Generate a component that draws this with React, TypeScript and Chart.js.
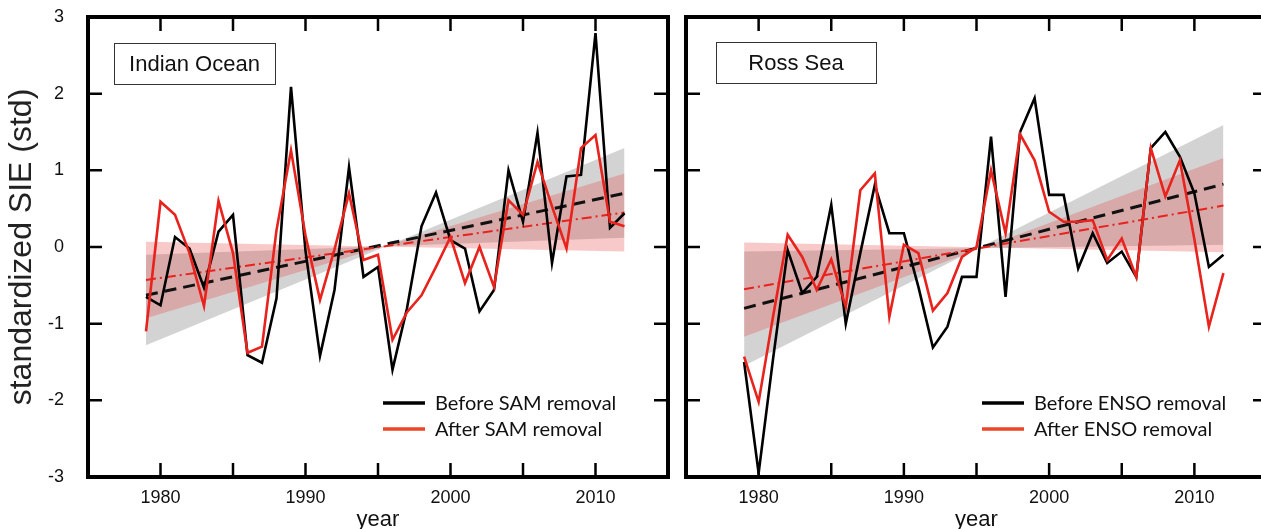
import React, { useEffect, useRef } from 'react';
import { Chart, registerables } from 'chart.js';
Chart.register(...registerables);

// ---------- data ----------
const years = [1979, 1980, 1981, 1982, 1983, 1984, 1985, 1986, 1987, 1988, 1989, 1990, 1991, 1992, 1993, 1994, 1995,
  1996, 1997, 1998, 1999, 2000, 2001, 2002, 2003, 2004, 2005, 2006, 2007, 2008, 2009, 2010, 2011, 2012];

const indianBefore = [-0.65, -0.76, 0.13, -0.02, -0.53, 0.20, 0.42, -1.41, -1.51, -0.67, 2.09, -0.05, -1.42, -0.56, 1.04, -0.39, -0.26,
  -1.60, -0.80, 0.27, 0.71, 0.09, -0.02, -0.84, -0.56, 1.00, 0.33, 1.49, -0.21, 0.92, 0.94, 2.79, 0.25, 0.44];
const indianAfter = [-1.10, 0.59, 0.42, -0.08, -0.77, 0.60, -0.08, -1.38, -1.30, 0.22, 1.26, 0.15, -0.69, -0.03, 0.70, -0.17, -0.10,
  -1.21, -0.85, -0.63, -0.26, 0.13, -0.47, 0.00, -0.52, 0.61, 0.42, 1.11, 0.53, -0.02, 1.29, 1.46, 0.33, 0.27];

const rossBefore = [-1.50, -2.95, -1.45, -0.04, -0.60, -0.39, 0.55, -1.00, -0.08, 0.81, 0.18, 0.18, -0.52, -1.31, -1.04, -0.39, -0.39,
  1.44, -0.65, 1.50, 1.94, 0.68, 0.68, -0.28, 0.18, -0.21, -0.06, -0.39, 1.29, 1.50, 1.18, 0.70, -0.26, -0.10];
const rossAfter = [-1.43, -2.02, -0.90, 0.16, -0.13, -0.56, -0.16, -0.78, 0.74, 0.96, -0.91, 0.03, -0.08, -0.83, -0.60, -0.13, 0.00,
  1.00, 0.18, 1.47, 1.13, 0.46, 0.33, 0.33, 0.35, -0.17, 0.11, -0.39, 1.29, 0.66, 1.13, 0.10, -1.04, -0.34];

// linear trend end points and their confidence range (first and last year)
const trendYears = [1979, 2012];
const indianTrendBefore = [-0.63, 0.70];
const indianTrendAfter = [-0.43, 0.45];
const indianRangeBeforeLow = [-0.10, 0.12];
const indianRangeBeforeHigh = [-1.28, 1.29];
const indianRangeAfterLow = [0.07, -0.06];
const indianRangeAfterHigh = [-0.93, 0.96];

const rossTrendBefore = [-0.80, 0.82];
const rossTrendAfter = [-0.55, 0.54];
const rossRangeBeforeLow = [-0.06, 0.03];
const rossRangeBeforeHigh = [-1.55, 1.59];
const rossRangeAfterLow = [0.06, -0.07];
const rossRangeAfterHigh = [-1.17, 1.16];

const xTickLabels = [1980, 1990, 2000, 2010];
const xMinorTicks = [1980, 1985, 1990, 1995, 2000, 2005, 2010];
const yTickLabels = [-3, -2, -1, 0, 1, 2, 3];
const yMinorTicks = [-2, -1, 0, 1, 2];

const indianLegend = ['Before SAM removal', 'After SAM removal'];
const rossLegend = ['Before ENSO removal', 'After ENSO removal'];

// ---------- styles ----------
const RED = '#e8221c';
const LEGEND_RED = '#ee4527';
const GRAY_FILL = 'rgba(110,110,110,0.30)';
const PINK_FILL = 'rgba(225,55,55,0.27)';
const SANS = '"Liberation Sans", Arial, Helvetica, sans-serif';
const LEGEND_FONT = 'Lato, "Open Sans", sans-serif';

const pts = (xs: number[], ys: number[]) => xs.map((x, i) => ({ x, y: ys[i] }));

const framePlugin = {
  id: 'frame',
  afterDatasetsDraw(chart: any, _args: any, opts: any) {
    const { ctx, chartArea: a, scales } = chart;
    const x = scales.x;
    const y = scales.y;
    ctx.save();
    ctx.strokeStyle = '#000';
    ctx.lineWidth = 2.5;
    const TL = 14;
    ctx.beginPath();
    for (const v of xMinorTicks) {
      const px = x.getPixelForValue(v);
      ctx.moveTo(px, a.bottom); ctx.lineTo(px, a.bottom - TL);
      ctx.moveTo(px, a.top); ctx.lineTo(px, a.top + TL);
    }
    for (const v of yMinorTicks) {
      const py = y.getPixelForValue(v);
      ctx.moveTo(a.left, py); ctx.lineTo(a.left + TL, py);
      ctx.moveTo(a.right, py); ctx.lineTo(a.right - TL, py);
    }
    ctx.stroke();
    ctx.lineWidth = 4;
    ctx.strokeRect(a.left, a.top, a.right - a.left, a.bottom - a.top);

    // region label box
    const b = opts.box;
    ctx.fillStyle = '#fff';
    ctx.fillRect(b.x, b.y, b.w, b.h);
    ctx.lineWidth = 1;
    ctx.strokeStyle = '#333';
    ctx.strokeRect(b.x + 0.5, b.y + 0.5, b.w, b.h);
    ctx.fillStyle = '#111';
    ctx.font = `22px ${SANS}`;
    ctx.textAlign = 'center';
    ctx.textBaseline = 'middle';
    ctx.fillText(opts.label, b.x + b.w / 2, b.y + b.h / 2 + 1);

    // legend
    const lg = opts.legend;
    ctx.font = `20px ${LEGEND_FONT}`;
    ctx.textAlign = 'left';
    lg.items.forEach((text: string, i: number) => {
      const yy = lg.y + i * lg.gap;
      ctx.strokeStyle = lg.colors[i];
      ctx.lineWidth = 3.5;
      ctx.beginPath();
      ctx.moveTo(lg.x, yy);
      ctx.lineTo(lg.x + 42, yy);
      ctx.stroke();
      ctx.fillStyle = '#111';
      ctx.fillText(text, lg.x + 52, yy + 1);
    });
    ctx.restore();
  },
};

function makeConfig(p: any): any {
  return {
    type: 'line',
    data: {
      datasets: [
        { data: pts(trendYears, p.rangeBeforeLow), borderWidth: 0, pointRadius: 0, fill: false, order: 9 },
        { data: pts(trendYears, p.rangeBeforeHigh), borderWidth: 0, pointRadius: 0, fill: '-1', backgroundColor: GRAY_FILL, order: 8 },
        { data: pts(trendYears, p.rangeAfterLow), borderWidth: 0, pointRadius: 0, fill: false, order: 7 },
        { data: pts(trendYears, p.rangeAfterHigh), borderWidth: 0, pointRadius: 0, fill: '-1', backgroundColor: PINK_FILL, order: 6 },
        { data: pts(trendYears, p.trendBefore), borderColor: '#111', borderWidth: 3, borderDash: [12, 7], pointRadius: 0, fill: false, order: 4 },
        { data: pts(trendYears, p.trendAfter), borderColor: RED, borderWidth: 2, borderDash: [10, 4, 2, 4], pointRadius: 0, fill: false, order: 3 },
        { label: p.legend[0], data: pts(years, p.before), borderColor: '#000', borderWidth: 2.6, pointRadius: 0, fill: false, tension: 0, order: 2 },
        { label: p.legend[1], data: pts(years, p.after), borderColor: RED, borderWidth: 2.6, pointRadius: 0, fill: false, tension: 0, order: 1 },
      ],
    },
    options: {
      responsive: false,
      animation: false,
      events: [],
      layout: { padding: { top: 17, right: p.padRight, left: 0, bottom: 0 } },
      plugins: {
        legend: { display: false },
        tooltip: { enabled: false },
        frame: {
          label: p.label,
          box: p.box,
          legend: { items: p.legend, x: p.legendX, y: 403, gap: 26, colors: ['#000', LEGEND_RED] },
        },
      },
      scales: {
        x: {
          type: 'linear',
          min: 1975,
          max: 2015,
          grid: { display: false },
          border: { display: false },
          afterBuildTicks: (s: any) => { s.ticks = xTickLabels.map((v) => ({ value: v })); },
          afterFit: (s: any) => { s.height = 52; s.paddingLeft = 0; s.paddingRight = 0; },
          ticks: { color: '#111', font: { family: SANS, size: 18 }, padding: 2, maxRotation: 0, autoSkip: false, callback: (v: any) => String(v) },
          title: { display: true, text: 'year', color: '#111', font: { family: SANS, size: 22, lineHeight: 1 }, padding: { top: 0, bottom: -2 } },
        },
        y: {
          type: 'linear',
          min: -3,
          max: 3,
          grid: { display: false },
          border: { display: false },
          afterBuildTicks: (s: any) => { s.ticks = yTickLabels.map((v) => ({ value: v })); },
          afterFit: (s: any) => { s.width = p.yWidth; s.paddingTop = 0; s.paddingBottom = 0; },
          ticks: { display: p.showY, color: '#111', font: { family: SANS, size: 18 }, padding: 16 },
          title: { display: p.showY, text: 'standardized SIE (std)', color: '#222', font: { family: SANS, size: 32, lineHeight: 1.2 }, padding: { top: 3, bottom: 0 } },
        },
      },
    },
    plugins: [framePlugin],
  };
}

export default function App() {
  const leftRef = useRef<HTMLCanvasElement>(null);
  const rightRef = useRef<HTMLCanvasElement>(null);

  useEffect(() => {
    const left = new Chart(leftRef.current as HTMLCanvasElement, makeConfig({
      before: indianBefore, after: indianAfter,
      trendBefore: indianTrendBefore, trendAfter: indianTrendAfter,
      rangeBeforeLow: indianRangeBeforeLow, rangeBeforeHigh: indianRangeBeforeHigh,
      rangeAfterLow: indianRangeAfterLow, rangeAfterHigh: indianRangeAfterHigh,
      legend: indianLegend, label: 'Indian Ocean',
      box: { x: 114, y: 43, w: 161, h: 41 }, legendX: 383,
      padRight: 8, yWidth: 88, showY: true,
    }));
    const right = new Chart(rightRef.current as HTMLCanvasElement, makeConfig({
      before: rossBefore, after: rossAfter,
      trendBefore: rossTrendBefore, trendAfter: rossTrendAfter,
      rangeBeforeLow: rossRangeBeforeLow, rangeBeforeHigh: rossRangeBeforeHigh,
      rangeAfterLow: rossRangeAfterLow, rangeAfterHigh: rossRangeAfterHigh,
      legend: rossLegend, label: 'Ross Sea',
      box: { x: 40, y: 42, w: 160, h: 41 }, legendX: 306,
      padRight: 13, yWidth: 10, showY: false,
    }));
    return () => { left.destroy(); right.destroy(); };
  }, []);

  return (
    <div style={{ position: 'fixed', left: 0, top: 0, width: 1261, height: 529, overflow: 'hidden', background: '#fff' }}>
      <canvas ref={leftRef} width={676} height={529} style={{ position: 'absolute', left: 0, top: 0, width: 676, height: 529 }} />
      <canvas ref={rightRef} width={604} height={529} style={{ position: 'absolute', left: 676, top: 0, width: 604, height: 529 }} />
    </div>
  );
}
